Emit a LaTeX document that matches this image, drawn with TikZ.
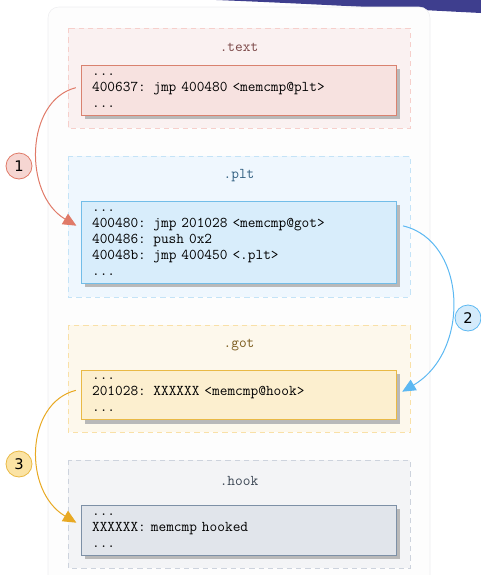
\documentclass[tikz,border=0pt]{standalone}
\usepackage{fontspec}
\usepackage{xcolor}
\usepackage{tikz}
\usetikzlibrary{arrows.meta,shadows,calc}
\newfontfamily\numfont{DejaVu Sans}

\definecolor{wedgeblue}{RGB}{62,62,142}
\definecolor{panelfill}{RGB}{253,253,253}
\definecolor{panelline}{RGB}{238,238,240}
% .text colours
\definecolor{txtsec}{RGB}{250,241,241}
\definecolor{txtdash}{RGB}{246,207,203}
\definecolor{txtbox}{RGB}{247,226,224}
\definecolor{txtline}{RGB}{217,130,111}
\definecolor{txttitle}{RGB}{122,70,70}
% .plt colours
\definecolor{pltsec}{RGB}{239,247,254}
\definecolor{pltdash}{RGB}{196,227,247}
\definecolor{pltbox}{RGB}{216,237,251}
\definecolor{pltline}{RGB}{114,189,232}
\definecolor{plttitle}{RGB}{47,94,128}
% .got colours
\definecolor{gotsec}{RGB}{253,248,236}
\definecolor{gotdash}{RGB}{249,224,167}
\definecolor{gotbox}{RGB}{252,239,207}
\definecolor{gotline}{RGB}{233,185,69}
\definecolor{gottitle}{RGB}{123,91,28}
% .hook colours
\definecolor{hooksec}{RGB}{243,244,246}
\definecolor{hookdash}{RGB}{205,211,221}
\definecolor{hookbox}{RGB}{225,229,235}
\definecolor{hookline}{RGB}{125,144,166}
\definecolor{hooktitle}{RGB}{59,70,84}
% arrows and step marks
\definecolor{arrowone}{RGB}{224,122,104}
\definecolor{fillone}{RGB}{246,214,210}
\definecolor{arrowtwo}{RGB}{92,184,242}
\definecolor{filltwo}{RGB}{212,235,251}
\definecolor{arrowthree}{RGB}{232,169,35}
\definecolor{fillthree}{RGB}{251,227,164}

\begin{document}
\begin{tikzpicture}[x=0.75pt,y=0.75pt,yscale=-1,xscale=1,
  secframe/.style={dash pattern=on 4pt off 3pt, line width=0.6pt},
  sectitle/.style={inner sep=0.75pt, font=\fontsize{11.2}{12}\selectfont\ttfamily},
  codebox/.style={draw, line width=0.6pt, anchor=north west, align=left,
    inner xsep=8pt, inner ysep=0pt, text width=220pt,
    font=\fontsize{11.2}{12}\selectfont\ttfamily,
    drop shadow={shadow xshift=3pt, shadow yshift=-3pt, fill=gray!55, opacity=1}},
  stepmark/.style={circle, draw, line width=0.6pt, minimum size=19.5pt, inner sep=0pt,
    font=\numfont\fontsize{11}{12}\selectfont},
  flow/.style={line width=0.75pt, -{Triangle[length=10pt,width=9pt]}}
]
\useasboundingbox (0,0) rectangle (481,575);
\clip (0,0) rectangle (481,575);

%Shape: background wedge
\fill[wedgeblue] (190,-1) .. controls (300,3) and (400,9) .. (481,13) -- (481,-1) -- cycle;
%Shape: panel
\draw[draw=panelline, fill=panelfill, rounded corners=8] (48,7) rectangle (430,600);

%Shape: .text section
\draw[secframe, draw=txtdash, fill=txtsec] (68,28) rectangle (410,128);
\node[sectitle, text=txttitle] (ttitle) at (239,47) {.text};
\node[codebox, draw=txtline, fill=txtbox, minimum height=37.5pt] (tbox) at (81,65)
  {...\\400637: jmp 400480 <memcmp@plt>\\...};

%Shape: .plt section
\draw[secframe, draw=pltdash, fill=pltsec] (68,156) rectangle (410,297);
\node[sectitle, text=plttitle] (ptitle) at (239,176) {.plt};
\node[codebox, draw=pltline, fill=pltbox, minimum height=61.5pt] (pbox) at (81,201)
  {...\\400480: jmp 201028 <memcmp@got>\\400486: push 0x2\\40048b: jmp 400450 <.plt>\\...};

%Shape: .got section
\draw[secframe, draw=gotdash, fill=gotsec] (68,325) rectangle (410,432);
\node[sectitle, text=gottitle] (gtitle) at (239,345) {.got};
\node[codebox, draw=gotline, fill=gotbox, minimum height=37pt] (gbox) at (81,370)
  {...\\201028: XXXXXX <memcmp@hook>\\...};

%Shape: .hook section
\draw[secframe, draw=hookdash, fill=hooksec] (68,460) rectangle (410,568);
\node[sectitle, text=hooktitle] (htitle) at (239,481) {.hook};
\node[codebox, draw=hookline, fill=hookbox, minimum height=37.5pt] (hbox) at (81,505)
  {...\\XXXXXX: memcmp hooked\\...};

%Curve Lines: step 1
\draw[flow, color=arrowone, shorten <=4pt, shorten >=4pt]
  ($(tbox.west)+(0,-4)$) .. controls +(-56,14) and +(-58,-34) .. ($(pbox.west)+(0,-14)$);
%Curve Lines: step 2
\draw[flow, color=arrowtwo, shorten <=5pt, shorten >=5pt]
  ($(pbox.east)+(0,-18)$) .. controls +(70,16) and +(75,-44) .. (gbox.east);
%Curve Lines: step 3
\draw[flow, color=arrowthree, shorten <=4pt, shorten >=4pt]
  ($(gbox.west)+(0,-6)$) .. controls +(-56,14) and +(-58,-34) .. ($(hbox.west)+(0,-5)$);

% Step marks
\node[stepmark, draw=arrowone, fill=fillone] (one) at (19,166) {1};
\node[stepmark, draw=arrowtwo, fill=filltwo] (two) at (468,318) {2};
\node[stepmark, draw=gotline, fill=fillthree] (three) at (19,464) {3};

\end{tikzpicture}
\end{document}
